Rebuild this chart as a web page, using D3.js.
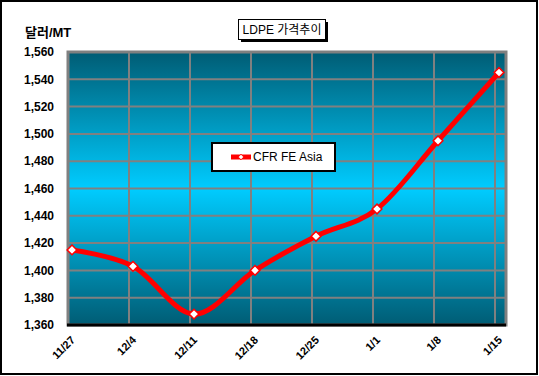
<!DOCTYPE html>
<html>
<head>
<meta charset="utf-8">
<script src="https://cdn.jsdelivr.net/npm/d3@7"></script>
<style>
  body { margin: 0; background: #fff; }
  text { font-family: Arial, "Liberation Sans", "Noto Sans CJK KR", sans-serif; }
</style>
</head>
<body>
<svg id="canvas"></svg>
<script>
const categories = ["11/27", "12/4", "12/11", "12/18", "12/25", "1/1", "1/8", "1/15"];
const prices = [1415, 1403, 1368, 1400, 1425, 1445, 1495, 1545];
const yTicks = [1360, 1380, 1400, 1420, 1440, 1460, 1480, 1500, 1520, 1540, 1560];
const seriesName = "CFR FE Asia";
const title = "LDPE 가격추이";
const unitLabel = "달러/MT";

const width = 539;
const height = 376;
const plot = { left: 68, top: 52, right: 506, bottom: 325 };

const svg = d3.select("#canvas")
    .attr("width", width)
    .attr("height", height);

// outer frame
svg.append("rect")
    .attr("x", 1).attr("y", 1)
    .attr("width", width - 3).attr("height", height - 3)
    .attr("fill", "#fff")
    .attr("stroke", "#000").attr("stroke-width", 2);

const defs = svg.append("defs");
const grad = defs.append("linearGradient")
    .attr("id", "bg").attr("x1", 0).attr("y1", 0).attr("x2", 0).attr("y2", 1);
grad.append("stop").attr("offset", "0%").attr("stop-color", "#005c74");
grad.append("stop").attr("offset", "50%").attr("stop-color", "#00ccff");
grad.append("stop").attr("offset", "100%").attr("stop-color", "#005c74");

const scaleX = d3.scalePoint()
    .domain(categories)
    .range([72, 499]);
const scaleY = d3.scaleLinear()
    .domain([1360, 1560])
    .range([plot.bottom, plot.top]);

// plot background
svg.append("rect")
    .attr("x", plot.left).attr("y", plot.top)
    .attr("width", plot.right - plot.left).attr("height", plot.bottom - plot.top)
    .attr("fill", "url(#bg)");

// gridlines
const grid = svg.append("g").attr("stroke", "#808080");
grid.selectAll("line.h")
    .data(yTicks.slice(1, -1))
    .join("line")
    .attr("x1", plot.left).attr("x2", plot.right)
    .attr("y1", d => scaleY(d)).attr("y2", d => scaleY(d))
    .attr("stroke-width", 2);
grid.selectAll("line.v")
    .data(categories.slice(1))
    .join("line")
    .attr("x1", d => scaleX(d) - 4).attr("x2", d => scaleX(d) - 4)
    .attr("y1", plot.top).attr("y2", plot.bottom)
    .attr("stroke-width", 2);

// plot border
svg.append("rect")
    .attr("x", plot.left).attr("y", plot.top)
    .attr("width", plot.right - plot.left).attr("height", plot.bottom - plot.top)
    .attr("fill", "none")
    .attr("stroke", "#808080").attr("stroke-width", 3);
svg.append("line")
    .attr("x1", plot.left - 1).attr("x2", plot.right)
    .attr("y1", plot.bottom).attr("y2", plot.bottom)
    .attr("stroke", "#000").attr("stroke-width", 3);

// y axis labels
svg.append("g")
    .selectAll("text")
    .data(yTicks)
    .join("text")
    .attr("x", 54)
    .attr("y", d => scaleY(d))
    .attr("dy", "0.35em")
    .attr("text-anchor", "end")
    .attr("font-size", 12)
    .attr("font-weight", "bold")
    .text(d => d3.format(",")(d));

svg.append("text")
    .attr("x", 25).attr("y", 37)
    .attr("font-size", 13)
    .attr("font-weight", "bold")
    .text(unitLabel);

// x axis labels
svg.append("g")
    .selectAll("text")
    .data(categories)
    .join("text")
    .attr("transform", d => `translate(${scaleX(d) + 1}, 338) rotate(-45)`)
    .attr("text-anchor", "end")
    .attr("dy", "0.35em")
    .attr("font-size", 11)
    .attr("font-weight", "bold")
    .text(d => d);

// series
const lineGen = d3.line()
    .x((d, i) => scaleX(categories[i]))
    .y(d => scaleY(d))
    .curve(d3.curveCardinal.tension(0));
svg.append("path")
    .attr("d", lineGen(prices))
    .attr("fill", "none")
    .attr("stroke", "#ff0000")
    .attr("stroke-width", 5);

const diamond = d3.symbol().type(d3.symbolDiamond2).size(60);
svg.append("g")
    .selectAll("path")
    .data(prices)
    .join("path")
    .attr("transform", (d, i) => `translate(${scaleX(categories[i])}, ${scaleY(d)})`)
    .attr("d", diamond)
    .attr("fill", "#fff")
    .attr("stroke", "#ff0000")
    .attr("stroke-width", 1.5);

// title box
const titleG = svg.append("g");
titleG.append("rect")
    .attr("x", 241).attr("y", 22).attr("width", 87).attr("height", 20)
    .attr("fill", "#000");
titleG.append("rect")
    .attr("x", 238.5).attr("y", 19.5).attr("width", 87).attr("height", 20)
    .attr("fill", "#fff").attr("stroke", "#000").attr("stroke-width", 1);
titleG.append("text")
    .attr("x", 282).attr("y", 30)
    .attr("dy", "0.35em")
    .attr("text-anchor", "middle")
    .attr("font-size", 12)
    .text(title);

// legend
const legend = svg.append("g");
legend.append("rect")
    .attr("x", 212).attr("y", 143).attr("width", 123).attr("height", 28)
    .attr("fill", "#fff").attr("stroke", "#000").attr("stroke-width", 2);
legend.append("line")
    .attr("x1", 231).attr("x2", 251).attr("y1", 157).attr("y2", 157)
    .attr("stroke", "#ff0000").attr("stroke-width", 5);
legend.append("path")
    .attr("transform", "translate(241,157)")
    .attr("d", d3.symbol().type(d3.symbolDiamond2).size(20))
    .attr("fill", "#fff").attr("stroke", "#ff0000").attr("stroke-width", 1);
legend.append("text")
    .attr("x", 253).attr("y", 157)
    .attr("dy", "0.35em")
    .attr("font-size", 12)
    .text(seriesName);
</script>
</body>
</html>
